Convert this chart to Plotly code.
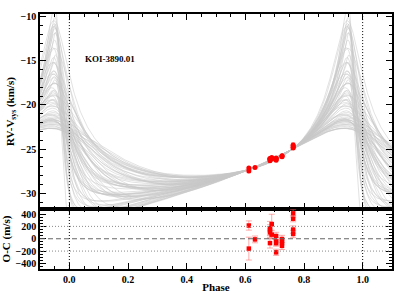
import numpy as np
import plotly.graph_objects as go
from plotly.subplots import make_subplots

# ---- observed data ----
phase = [0.612, 0.612, 0.633, 0.684, 0.684, 0.684, 0.684, 0.690, 0.690,
         0.705, 0.705, 0.705, 0.705, 0.725, 0.725, 0.725, 0.763, 0.763, 0.763, 0.763]
rv = [-27.15, -27.50, -27.10, -26.08, -26.11, -26.15, -26.32, -25.96, -26.13,
      -26.00, -26.09, -26.12, -26.27, -25.75, -25.80, -25.87, -24.54, -24.63, -24.80, -24.87]
rv_err = [0.08, 0.18, 0.06, 0.10, 0.08, 0.09, 0.08, 0.11, 0.07,
          0.06, 0.06, 0.05, 0.05, 0.06, 0.05, 0.06, 0.25, 0.05, 0.06, 0.06]
oc = [214, -160, -11, 170, 137, 104, -71, 236, 66,
      44, -44, -71, -220, -5, -49, -115, 411, 324, 148, 77]
oc_err = [75, 185, 55, 110, 90, 90, 80, 160, 70,
          60, 60, 50, 50, 60, 50, 60, 60, 50, 60, 60]

# ---- orbit samples: eccentricity, arg. of periastron [deg], phase of RV maximum ----
ecc = [0.15, 0.25, 0.35, 0.45, 0.52, 0.58,
       0.20, 0.30, 0.40, 0.50, 0.58, 0.64, 0.68,
       0.20, 0.30, 0.40, 0.50, 0.60, 0.68, 0.74, 0.75,
       0.25, 0.35, 0.45, 0.55, 0.65, 0.72, 0.78,
       0.30, 0.40, 0.50, 0.60, 0.70, 0.76,
       0.18, 0.30, 0.40, 0.48, 0.55, 0.60,
       0.24, 0.35, 0.45, 0.54, 0.61, 0.66, 0.70,
       0.26, 0.36, 0.46, 0.55, 0.64, 0.71, 0.76, 0.62,
       0.30, 0.40, 0.50, 0.60, 0.68, 0.75, 0.58,
       0.35, 0.45, 0.55, 0.65, 0.72, 0.48]
omega = [5, 8, 3, 10, 6, 2,
         18, 22, 15, 20, 25, 17, 21,
         35, 30, 38, 33, 40, 36, 31, 28,
         50, 45, 52, 47, 55, 48, 46,
         65, 60, 68, 62, 66, 70,
         2, 6, 9, 4, 8, 7,
         15, 24, 19, 23, 16, 22, 26,
         32, 40, 37, 30, 39, 34, 38, 27,
         47, 53, 49, 55, 45, 51, 44,
         62, 67, 64, 60, 58, 69]
peak_phase = [0.940, 0.945, 0.938, 0.950, 0.943, 0.947,
              0.936, 0.944, 0.941, 0.949, 0.946, 0.952, 0.948,
              0.937, 0.942, 0.945, 0.939, 0.950, 0.947, 0.951, 0.949,
              0.935, 0.943, 0.940, 0.946, 0.944, 0.950, 0.953,
              0.938, 0.941, 0.936, 0.945, 0.948, 0.951,
              0.944, 0.939, 0.947, 0.942, 0.950, 0.946,
              0.940, 0.937, 0.945, 0.948, 0.943, 0.951, 0.949,
              0.942, 0.938, 0.944, 0.940, 0.947, 0.950, 0.952, 0.946,
              0.939, 0.936, 0.943, 0.941, 0.948, 0.953, 0.945,
              0.937, 0.940, 0.944, 0.942, 0.949, 0.939]
anchor_phase = [0.612, 0.763]
anchor_rv = [-27.33, -24.95]


def kepler_shape(ph, e, w_deg, tp):
    M = 2 * np.pi * (np.asarray(ph, dtype=float) - tp)
    E = M.copy()
    for _ in range(50):
        E = E - (E - e * np.sin(E) - M) / (1 - e * np.cos(E))
    nu = 2 * np.arctan2(np.sqrt(1 + e) * np.sin(E / 2), np.sqrt(1 - e) * np.cos(E / 2))
    w = np.radians(w_deg)
    return np.cos(nu + w) + e * np.cos(w)


def tp_from_peak(p, e, w_deg):
    nu = -np.radians(w_deg)
    E = 2 * np.arctan(np.sqrt((1 - e) / (1 + e)) * np.tan(nu / 2))
    return p - (E - e * np.sin(E)) / (2 * np.pi)


grid = np.linspace(-0.1, 1.1, 500)
xs, ys = [], []
for e, w, p in zip(ecc, omega, peak_phase):
    tp = tp_from_peak(p, e, w)
    f = kepler_shape(anchor_phase, e, w, tp)
    K = (anchor_rv[1] - anchor_rv[0]) / (f[1] - f[0])
    gam = anchor_rv[0] - K * f[0]
    y = gam + K * kepler_shape(grid, e, w, tp)
    xs += list(grid) + [None]
    ys += list(y) + [None]

fig = make_subplots(rows=2, cols=1, vertical_spacing=0, row_heights=[0.765, 0.235])

fig.add_trace(go.Scatter(x=xs, y=ys, mode="lines",
                         line=dict(color="rgba(200,200,200,0.75)", width=0.7),
                         hoverinfo="skip", showlegend=False), row=1, col=1)

fig.add_trace(go.Scatter(x=phase, y=rv, mode="markers",
                         marker=dict(color="red", size=5, symbol="circle"),
                         error_y=dict(type="data", array=rv_err, color="rgba(255,80,80,0.6)",
                                      thickness=1, width=2),
                         showlegend=False), row=1, col=1)

fig.add_trace(go.Scatter(x=phase, y=oc, mode="markers",
                         marker=dict(color="red", size=4.5, symbol="square"),
                         error_y=dict(type="data", array=oc_err, color="rgba(255,90,90,0.5)",
                                      thickness=1, width=3),
                         showlegend=False), row=2, col=1)

for r in (1, 2):
    for xv in (0.0, 1.0):
        fig.add_vline(x=xv, line=dict(color="black", width=1, dash="1px,2px"), row=r, col=1)
fig.add_hline(y=0, line=dict(color="#666666", width=1.2, dash="5px,3px"), row=2, col=1)
for yv in (200, -200):
    fig.add_hline(y=yv, line=dict(color="#888888", width=1, dash="1px,2px"), row=2, col=1)

font = dict(family="Liberation Serif", size=10, color="black", weight="bold")
tfont = dict(family="Liberation Serif", size=11, color="black", weight="bold")
axis_common = dict(showline=True, linecolor="black", linewidth=1.5, mirror="ticks",
                   ticks="inside", tickcolor="black", showgrid=False, zeroline=False,
                   tickfont=font, automargin=False)

fig.update_xaxes(range=[-0.1, 1.1], dtick=0.2, ticklen=6,
                 minor=dict(dtick=0.05, ticklen=3, ticks="inside", tickcolor="black"),
                 **axis_common)
fig.update_xaxes(showticklabels=False, row=1, col=1)
fig.update_xaxes(tickformat=".1f", title=dict(text="Phase", font=tfont, standoff=0), row=2, col=1)

fig.update_yaxes(range=[-31.8, -9.7], dtick=5, ticklen=6,
                 minor=dict(dtick=1, ticklen=3, ticks="inside", tickcolor="black"),
                 title=dict(text="RV-V<sub>sys</sub> (km/s)", font=tfont, standoff=4),
                 row=1, col=1, **axis_common)
fig.update_yaxes(range=[-490, 480], tickvals=[-400, -200, 0, 200, 400], ticklen=6,
                 minor=dict(dtick=50, ticklen=3, ticks="inside", tickcolor="black"),
                 title=dict(text="O-C (m/s)", font=tfont, standoff=4),
                 row=2, col=1, **axis_common)

fig.add_annotation(text="KOI-3890.01", x=0.045, y=-14.8, xref="x", yref="y",
                   showarrow=False, xanchor="left",
                   font=dict(family="Liberation Serif", size=9, color="black", weight="bold"))

fig.update_layout(width=399, height=299, margin=dict(l=40, r=7, t=14, b=30),
                  plot_bgcolor="white", paper_bgcolor="white", font=font)

fig.write_html("out.html", config={"displayModeBar": False},
               post_script="document.body.style.margin='0';document.body.style.padding='0';")
